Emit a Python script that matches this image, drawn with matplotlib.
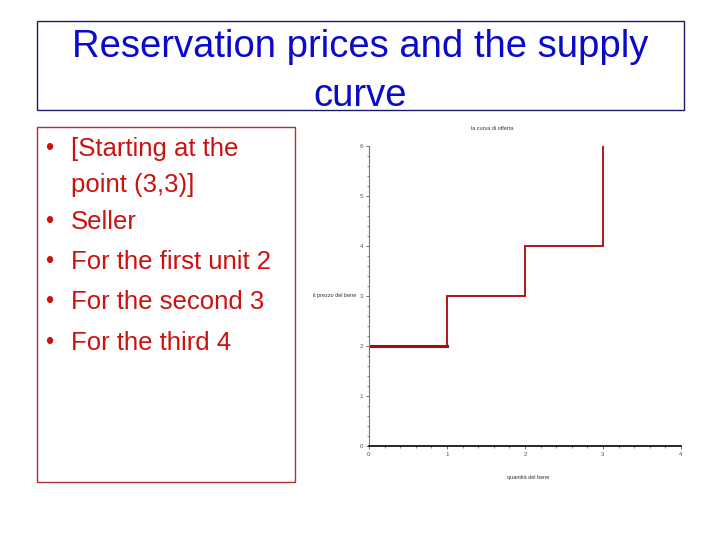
import matplotlib.pyplot as plt
import numpy as np
from matplotlib.patches import Rectangle

## data
units = [0, 1, 2, 3]          # quantity breakpoints
prices = [2, 3, 4]            # reservation price for unit 1,2,3
price_top = 6
bullets = ["[Starting at the\npoint (3,3)]", "Seller", "For the first unit 2",
           "For the second 3", "For the third 4"]
title_lines = ["Reservation prices and the supply", "curve"]

plt.rcParams['font.family'] = ['Liberation Sans', 'DejaVu Sans']

fig = plt.figure(figsize=(7.2, 5.4), dpi=100)

## title box
fig.patches.append(Rectangle((37/720, 1-110/540), 647/720, 89/540, transform=fig.transFigure,
                             fill=False, edgecolor='#1a1a6e', lw=1))
for i, t in enumerate(title_lines):
    fig.text(360/720, 1-(57 + 49*i)/540, t, ha='center', va='baseline', fontsize=27.5,
             color='#0a0ac8')

## bullet box
fig.patches.append(Rectangle((37/720, 1-482/540), 258/720, 355/540, transform=fig.transFigure,
                             fill=False, edgecolor='#b03030', lw=1))
ypos = [156, 229, 269, 309, 350]   # baselines
for i, b in enumerate(bullets):
    y = ypos[i]
    fig.text(45/720, 1-(y-1)/540, u"\u2022", ha='left', va='baseline', fontsize=17, color='#cc1111')
    for j, line in enumerate(b.split('\n')):
        fig.text(71/720, 1-(y + 36*j)/540, line, ha='left', va='baseline', fontsize=18.5,
                 color='#cc1111')

## the chart
ax = fig.add_axes([369/720, 1-446/540, 312/720, 300/540])
xs = [units[0]]
ys = [0]
for i, p in enumerate(prices):
    xs += [units[i], units[i+1]]
    ys += [p, p]
xs.append(units[-1])
ys.append(price_top)
ax.plot(xs, ys, color='#b01818', lw=1.4, solid_joinstyle='miter')
ax.plot(units[:2], [prices[0]]*2, color='#a01010', lw=2.2)

ax.set_xlim(0, 4)
ax.set_ylim(0, 6)
ax.set_xticks(range(5))
ax.set_yticks(range(7))
ax.set_xticks(np.arange(0, 4.01, 0.2), minor=True)
ax.set_yticks(np.arange(0, 6.01, 0.2), minor=True)
ax.tick_params(labelsize=4.5, colors='#555555', length=2, width=0.6, direction='out', pad=2)
ax.tick_params(which='minor', length=1.2, width=0.5, colors='#555555')
for s in ['top', 'right']:
    ax.spines[s].set_visible(False)
ax.spines['left'].set_color('#777777')
ax.spines['bottom'].set_color('black')
ax.spines['bottom'].set_linewidth(1.2)

fig.text(492/720, 1-129/540, "la curva di offerta", ha='center', va='center', fontsize=4, color='#333333')
fig.text(335/720, 1-296/540, "il prezzo del bene", ha='center', va='center', fontsize=4, color='#333333')
fig.text(528/720, 1-477/540, "quantità del bene", ha='center', va='center', fontsize=4, color='#333333')

fig.savefig('out.png', dpi=100)
